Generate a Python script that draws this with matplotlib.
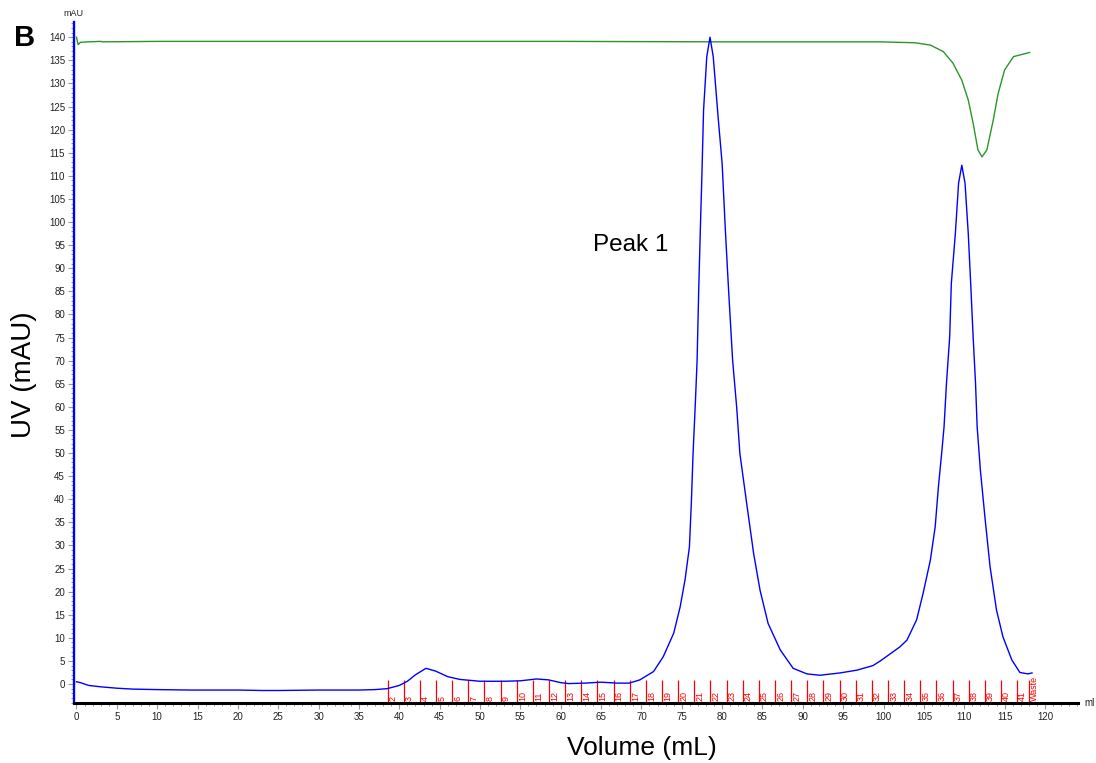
import matplotlib
matplotlib.use("Agg")
import matplotlib.pyplot as plt
from matplotlib.ticker import MultipleLocator

plt.rcParams['font.family'] = ['Liberation Sans', 'DejaVu Sans']

# UV absorbance trace (mAU) against elution volume (mL)
uv_volume = [0.0, 0.5, 1.5, 3.0, 5.0, 7.0, 10.0, 14.0, 20.0, 23.0, 25.0, 30.0,
             35.0, 37.0, 38.5, 40.0, 41.0, 42.0, 43.3, 44.5, 46.0, 47.5, 50.0,
             53.0, 55.0, 57.0, 58.5, 60.0, 61.0, 63.0, 65.0, 67.0, 68.5, 69.8,
             71.5, 72.7, 74.0, 74.8, 75.4, 75.95, 76.2, 76.4, 76.7, 76.9, 77.1,
             77.3, 77.5, 77.7, 78.1, 78.5, 78.9, 79.5, 80.0, 80.4, 80.8, 81.3,
             81.8, 82.2, 83.1, 83.9, 84.7, 85.7, 87.2, 88.8, 90.5, 92.1, 94.6,
             96.7, 98.7, 99.6, 100.4, 101.2, 102.0, 102.9, 104.1, 104.9, 105.8,
             106.4, 106.8, 107.2, 107.5, 107.8, 108.2, 108.4, 108.9, 109.3,
             109.7, 110.1, 110.5, 110.8, 111.1, 111.4, 111.6, 112.0, 112.6,
             113.2, 114.0, 114.8, 115.9, 116.9, 117.9, 118.4]
uv_mau = [0.5, 0.3, -0.3, -0.6, -0.9, -1.1, -1.2, -1.3, -1.3, -1.4, -1.4, -1.3,
          -1.3, -1.2, -1.0, -0.3, 0.6, 2.0, 3.4, 2.8, 1.6, 1.0, 0.6,
          0.6, 0.7, 1.1, 0.9, 0.3, 0.1, 0.2, 0.4, 0.2, 0.2, 0.9,
          2.7, 5.9, 11.0, 16.7, 22.5, 29.7, 39.8, 49.9, 61.5, 70.1, 85.3,
          98.3, 110.5, 124.2, 135.8, 140.0, 135.8, 122.8, 112.7, 98.3, 85.3, 70.1,
          60.0, 49.9, 38.4, 28.3, 20.3, 13.1, 7.4, 3.4, 2.2, 1.9, 2.4,
          3.0, 4.0, 5.0, 6.0, 7.0, 8.0, 9.5, 13.9, 19.6, 26.8,
          34.0, 42.7, 49.9, 55.7, 65.1, 75.2, 86.7, 97.5, 108.4,
          112.3, 108.4, 97.5, 86.7, 75.2, 65.1, 55.7, 46.3, 35.5,
          25.4, 16.0, 10.2, 5.2, 2.5, 2.2, 2.4]

# Second (green) trace
cond_volume = [0.0, 0.2, 0.5, 1.5, 3.0, 3.2, 10.0, 30.0, 60.0, 80.0, 99.6,
               103.9, 105.8, 107.4, 108.6, 109.7, 110.5, 111.1, 111.7, 112.2,
               112.8, 113.6, 114.2, 115.0, 116.1, 118.1]
cond_level = [140.0, 138.4, 138.9, 139.0, 139.1, 139.0, 139.1, 139.1, 139.1,
              139.0, 139.0, 138.8, 138.3, 136.9, 134.4, 130.7, 126.4, 121.4,
              115.6, 114.1, 115.6, 122.1, 127.8, 132.9, 135.8, 136.7]

# Fraction collector marks
fraction_volume = [38.55, 40.55, 42.55, 44.55, 46.55, 48.55, 50.55, 52.55,
                   54.55, 56.55, 58.55, 60.55, 62.55, 64.55, 66.55, 68.55,
                   70.55, 72.55, 74.55, 76.55, 78.55, 80.55, 82.55, 84.55,
                   86.55, 88.55, 90.55, 92.55, 94.55, 96.55, 98.55, 100.55,
                   102.55, 104.55, 106.55, 108.55, 110.55, 112.55, 114.55,
                   116.55, 118.05]
fraction_label = ['2', '3', '4', '5', '6', '7', '8', '9', '10', '11', '12',
                  '13', '14', '15', '16', '17', '18', '19', '20', '21', '22',
                  '23', '24', '25', '26', '27', '28', '29', '30', '31', '32',
                  '33', '34', '35', '36', '37', '38', '39', '40', '41', 'Waste']

fig = plt.figure(figsize=(10.96, 7.63), dpi=100)
ax = fig.add_axes([0.0675, 0.0786, 0.9161, 0.8926])
ymin, ymax = -4.11, 143.3
ax.set_xlim(-0.31, 124.1)
ax.set_ylim(ymin, ymax)

ax.plot(cond_volume, cond_level, color='#2a962a', lw=1.0, zorder=3)
ax.plot(uv_volume, uv_mau, color='#0000ff', lw=1.0, zorder=4)

ax.vlines(fraction_volume, ymin, 0.9, color='#ff0000', lw=0.9, zorder=2)
for v, lab in zip(fraction_volume, fraction_label):
    ax.text(v + 0.15, -3.7, lab, rotation=90, ha='left', va='bottom',
            fontsize=6.5, color='#ff0000', zorder=2)

for side in ('top', 'right'):
    ax.spines[side].set_visible(False)
ax.spines['left'].set_color('#0000ff')
ax.spines['left'].set_linewidth(1.7)
ax.spines['bottom'].set_color('black')
ax.spines['bottom'].set_linewidth(2.2)
ax.spines['left'].set_zorder(5)
ax.spines['bottom'].set_zorder(5)

ax.xaxis.set_minor_locator(MultipleLocator(1))
ax.yaxis.set_minor_locator(MultipleLocator(1))
ax.set_yticks([t for t in range(0, 141, 5)])
ax.set_xticks([t for t in range(0, 121, 5)])

ax.tick_params(axis='both', which='major', length=4, width=0.8,
               color='#9a9a9a', labelsize=7, labelcolor='#222222', pad=2.5)
ax.tick_params(axis='both', which='minor', length=2.3, width=0.7,
               color='#9a9a9a')

ax.text(68.7, 95.0, 'Peak 1', ha='center', va='center', fontsize=17.5,
        color='black')

fig.text(73 / 1096, 1 - 14 / 763, 'mAU', ha='center', va='center',
         fontsize=6.5, color='#222222')
fig.text(1090 / 1096, 1 - 703 / 763, 'ml', ha='center', va='center',
         fontsize=7, color='#222222')
fig.text(25 / 1096, 1 - 38 / 763, 'B', ha='center', va='center',
         fontsize=21, fontweight='bold')
fig.text(24 / 1096, 1 - 375 / 763, 'UV (mAU)', ha='center', va='center',
         rotation=90, fontsize=20)
fig.text(642 / 1096, 1 - 748 / 763, 'Volume (mL)', ha='center', va='center',
         fontsize=19)

fig.savefig('out.png', dpi=100, facecolor='white')
